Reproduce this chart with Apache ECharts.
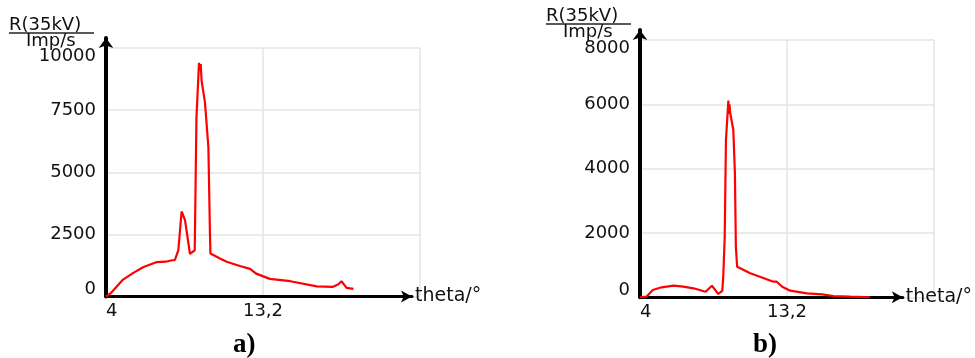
<!DOCTYPE html>
<html>
<head>
<meta charset="utf-8">
<script src="https://cdn.jsdelivr.net/npm/echarts@6/dist/echarts.min.js"></script>
<style>
html,body{margin:0;padding:0;background:#fff;}
#chart{width:975px;height:358px;}
</style>
</head>
<body>
<div id="chart"></div>
<script>
// ---- data ----
const thetaA = [4.0, 4.3, 5.0, 5.6, 6.2, 6.95, 7.5, 7.8, 8.04, 8.24, 8.43, 8.63, 8.92, 9.2, 9.3, 9.45, 9.5, 9.55, 9.6, 9.8, 10.0, 10.09, 10.12, 10.68, 11.07, 11.85, 12.44, 12.8, 13.6, 14.8, 16.35, 17.3, 17.6, 17.8, 18.1, 18.5];
const countsA = [0, 150, 680, 950, 1190, 1380, 1400, 1450, 1470, 1870, 3420, 3070, 1720, 1860, 7200, 9400, 9100, 9350, 8700, 7800, 6000, 2600, 1730, 1530, 1400, 1230, 1110, 920, 710, 615, 410, 390, 480, 615, 350, 310];

const thetaB = [4.0, 4.4, 4.8, 5.35, 6.1, 6.7, 7.35, 8.1, 8.5, 8.9, 9.15, 9.21, 9.3, 9.38, 9.53, 9.57, 9.6, 9.65, 9.84, 9.94, 10.0, 10.08, 10.9, 11.5, 12.35, 12.56, 12.9, 13.4, 14.45, 15.4, 16.1, 17.15, 18.4];
const countsB = [0, 20, 227, 311, 361, 330, 280, 174, 361, 103, 200, 640, 1835, 4890, 6115, 5700, 6000, 5720, 5200, 3855, 1574, 950, 746, 640, 485, 485, 330, 205, 124, 93, 40, 19, 0];

const xTicks = [4, 13.2, 22.4];
const xTickLabels = ['4', '13,2', ''];
const yTicksA = [0, 2500, 5000, 7500, 10000];
const yTicksB = [0, 2000, 4000, 6000, 8000];
const yTitleTop = 'R(35kV)';
const yTitleBottom = 'Imp/s';
const xTitle = 'theta/°';
const panelLabels = ['a)', 'b)'];

// ---- chart ----
const FONT = 'DejaVu Sans';
const TXT = '#111';
const GRIDC = '#e4e4e4';
const FS = 18;

function pairs(xs, ys) { return xs.map((x, i) => [x, ys[i]]); }

function xFmt(v) {
  const i = xTicks.findIndex(t => Math.abs(t - v) < 1e-6);
  return i >= 0 ? xTickLabels[i] : '';
}
function yFmt(ticks) {
  const max = ticks[ticks.length - 1];
  return function (v) {
    if (Math.abs(v - max) < 1e-6) return '{top|' + v + '}';
    if (v === 0) return '{bot|0}';
    return String(v);
  };
}
const labelRich = {
  top: { padding: [17, 0, 0, 0], fontFamily: FONT, fontSize: FS, color: TXT },
  bot: { padding: [0, 0, 14, 0], fontFamily: FONT, fontSize: FS, color: TXT }
};

const grids = [
  { left: 106, top: 48, width: 314, height: 248.5 },   // data a)
  { left: 106, top: 38, width: 306, height: 258.5 },   // arrows a)
  { left: 640, top: 40, width: 294, height: 257.3 },   // data b)
  { left: 640, top: 30, width: 267, height: 267.3 }    // arrows b)
];

function dataX(gi) {
  return {
    type: 'value', gridIndex: gi, min: xTicks[0], max: xTicks[2], interval: xTicks[1] - xTicks[0],
    axisLine: { show: false }, axisTick: { show: false },
    splitLine: { show: true, lineStyle: { color: GRIDC, width: 1.5 } },
    axisLabel: { margin: 6, fontFamily: FONT, fontSize: FS, color: TXT, formatter: xFmt, alignMinLabel: 'left', showMaxLabel: false }
  };
}
function dataY(gi, ticks) {
  return {
    type: 'value', gridIndex: gi, min: ticks[0], max: ticks[ticks.length - 1], interval: ticks[1] - ticks[0],
    axisLine: { show: false }, axisTick: { show: false },
    splitLine: { show: true, lineStyle: { color: GRIDC, width: 1.5 } },
    axisLabel: { margin: 10, fontFamily: FONT, fontSize: FS, color: TXT, formatter: yFmt(ticks), rich: labelRich }
  };
}
function arrowX(gi) {
  return {
    type: 'value', gridIndex: gi, min: 0, max: 1,
    axisLine: { show: true, symbol: ['none', 'arrow'], symbolSize: [9, 11], lineStyle: { color: '#000', width: 3 } },
    axisTick: { show: false }, axisLabel: { show: false }, splitLine: { show: false },
    name: xTitle, nameLocation: 'end', nameGap: 3,
    nameTextStyle: { fontFamily: FONT, fontSize: 19, color: TXT, verticalAlign: 'middle', align: 'left' }
  };
}
function arrowY(gi) {
  return {
    type: 'value', gridIndex: gi, min: 0, max: 1,
    axisLine: { show: true, symbol: ['none', 'arrow'], symbolSize: [11, 10], lineStyle: { color: '#000', width: 4 } },
    axisTick: { show: false }, axisLabel: { show: false }, splitLine: { show: false }
  };
}

function header(cx, cy) {
  return [
    { type: 'text', left: cx - 43, top: cy - 10, style: { text: yTitleTop, fontFamily: FONT, fontSize: 18, fill: TXT }, z: 10 },
    { type: 'line', shape: { x1: cx - 43, y1: cy + 7, x2: cx + 42, y2: cy + 7 }, style: { stroke: '#222', lineWidth: 1.5 }, z: 10 },
    { type: 'text', left: cx - 26, top: cy + 6, style: { text: yTitleBottom, fontFamily: FONT, fontSize: 18, fill: TXT }, z: 10 }
  ];
}

const chart = echarts.init(document.getElementById('chart'), null, { renderer: 'canvas' });
chart.setOption({
  backgroundColor: '#fff',
  animation: false,
  grid: grids,
  xAxis: [dataX(0), arrowX(1), dataX(2), arrowX(3)],
  yAxis: [dataY(0, yTicksA), arrowY(1), dataY(2, yTicksB), arrowY(3)],
  series: [
    { type: 'line', xAxisIndex: 0, yAxisIndex: 0, data: pairs(thetaA, countsA), showSymbol: false, lineStyle: { color: '#ff0000', width: 2.2 }, z: 3 },
    { type: 'line', xAxisIndex: 2, yAxisIndex: 2, data: pairs(thetaB, countsB), showSymbol: false, lineStyle: { color: '#ff0000', width: 2.2 }, z: 3 }
  ],
  graphic: [
    ...header(52, 26),
    ...header(589, 17),
    { type: 'text', left: 233, top: 332, style: { text: panelLabels[0], fontFamily: 'Liberation Serif', fontWeight: 'bold', fontSize: 27, fill: '#000' } },
    { type: 'text', left: 753, top: 332, style: { text: panelLabels[1], fontFamily: 'Liberation Serif', fontWeight: 'bold', fontSize: 27, fill: '#000' } }
  ]
});
</script>
</body>
</html>
